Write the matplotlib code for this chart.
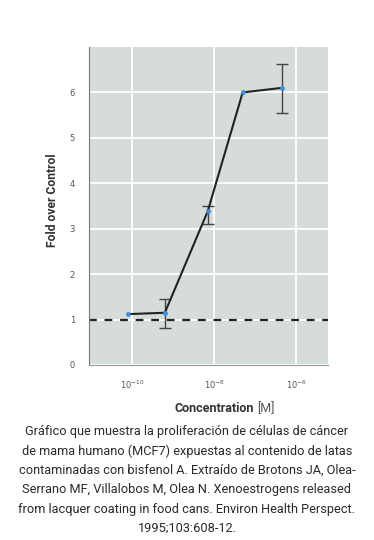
import matplotlib
matplotlib.use("Agg")
import matplotlib.pyplot as plt
from matplotlib import font_manager
import numpy as np

# data
conc = [7.9e-11, 6.3e-10, 7.0e-9, 5.0e-8, 4.5e-7]
fold = [1.12, 1.15, 3.38, 6.0, 6.1]
err_lo = [0.0, 0.33, 0.27, 0.0, 0.55]
err_hi = [0.0, 0.30, 0.12, 0.0, 0.52]
control = 1.0
xticks = [1e-10, 1e-8, 1e-6]
xticklabels = [r"$10^{-10}$", r"$10^{-8}$", r"$10^{-6}$"]
yticks = [0, 1, 2, 3, 4, 5, 6]
caption = ("Gráfico que muestra la proliferación de células de cáncer\n"
           "de mama humano (MCF7) expuestas al contenido de latas\n"
           "contaminadas con bisfenol A. Extraído de Brotons JA, Olea-\n"
           "Serrano MF, Villalobos M, Olea N. Xenoestrogens released\n"
           "from lacquer coating in food cans. Environ Health Perspect.\n"
           "1995;103:608-12.")

names = {f.name for f in font_manager.fontManager.ttflist}
cap_font = ['Liberation Sans Narrow', 'DejaVu Sans'] if 'Liberation Sans Narrow' in names else ['Roboto', 'DejaVu Sans']
lab_font = cap_font

fig = plt.figure(figsize=(3.74, 5.40), dpi=100)
fig.patch.set_facecolor('white')
ax = fig.add_axes([89/374, 1-365/540, (328-89)/374, (365-47)/540])
ax.set_facecolor('#d6dcd7')
ax.set_xscale('log')
ax.set_xlim(10**-11.05, 10**-5.22)
ax.set_ylim(0, 7)

ax.grid(True, color='white', lw=1.3)
ax.set_axisbelow(True)
ax.minorticks_off()
ax.set_xticks(xticks)
ax.set_xticklabels(xticklabels)
ax.set_yticks(yticks)
ax.tick_params(length=0, labelsize=6, labelcolor='#555555', pad=10)
ax.tick_params(axis='x', pad=10)
for s in ['top', 'right']:
    ax.spines[s].set_visible(False)
ax.spines['left'].set_color('#777777')
ax.spines['bottom'].set_color('#999999')

ax.axhline(control, color='#222222', lw=1.6, ls=(0, (3.5, 3.5)), zorder=2)
idx = [i for i in range(len(conc)) if err_lo[i] > 0 or err_hi[i] > 0]
ax.errorbar([conc[i] for i in idx], [fold[i] for i in idx],
            yerr=[[err_lo[i] for i in idx], [err_hi[i] for i in idx]],
            fmt='none', ecolor='#444444', elinewidth=1.0, capsize=4.5,
            capthick=1.0, zorder=3)
ax.plot(conc, fold, color='#222222', lw=1.5, zorder=4)
ax.plot(conc, fold, 'o', color='#3d8fdc', ms=3.5, mec='none', zorder=5)

fig.text(52/374, 1-200/540, 'Fold over Control', rotation=90, ha='center', va='center',
         fontsize=8.7, fontweight='bold', color='#333333', family=lab_font)
fig.text(254/374, 1-409/540, 'Concentration', ha='right', va='center',
         fontsize=9, fontweight='bold', color='#333333', family=lab_font)
fig.text(257/374, 1-409/540, '[M]', ha='left', va='center',
         fontsize=9, color='#555555', family=lab_font)

fig.text(0.5, 1-480/540, caption, ha='center', va='center', fontsize=9.2,
         color='#2a2a2a', family=cap_font, linespacing=1.62)

fig.savefig('out.png', dpi=100, facecolor='white')
